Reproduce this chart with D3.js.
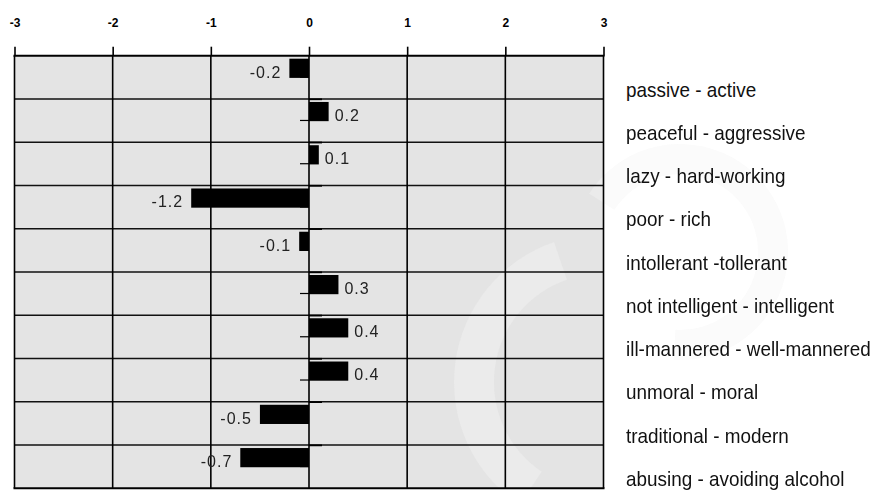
<!DOCTYPE html>
<html><head><meta charset="utf-8">
<script src="https://cdn.jsdelivr.net/npm/d3@7"></script>
<style>
html,body{margin:0;padding:0;background:#fff;}
svg{display:block;font-family:"Liberation Sans",Arial,sans-serif;}
svg text{font-family:"Liberation Sans",Arial,sans-serif;}
</style></head>
<body>
<script>
const categories = ["passive - active","peaceful - aggressive","lazy - hard-working","poor - rich","intollerant -tollerant","not intelligent - intelligent","ill-mannered - well-mannered","unmoral - moral","traditional - modern","abusing - avoiding alcohol"];
const values = [-0.2, 0.2, 0.1, -1.2, -0.1, 0.3, 0.4, 0.4, -0.5, -0.7];
const valueLabels = ["-0.2","0.2","0.1","-1.2","-0.1","0.3","0.4","0.4","-0.5","-0.7"];
const tickValues = [-3,-2,-1,0,1,2,3];
const tickLabels = ["-3","-2","-1","0","1","2","3"];

const W = 874, H = 490;
const svg = d3.select("body").append("svg").attr("width", W).attr("height", H);

const x = d3.scaleLinear().domain([-3,3]).range([14.5, 603.5]);
const y = d3.scaleBand().domain(categories).range([55.7, 488.3]).padding(0);
const bw = y.bandwidth();

// plot background
svg.append("rect").attr("x", x(-3)).attr("y", y.range()[0])
  .attr("width", x(3)-x(-3)).attr("height", y.range()[1]-y.range()[0])
  .attr("fill", "#e4e4e4");

// faint watermark (two swirling arcs)
const wm = svg.append("g").attr("fill", "#f4f4f4").attr("opacity", 0.4);
wm.append("path")
  .attr("d", d3.arc()({innerRadius: 108, outerRadius: 148, startAngle: -2.55, endAngle: -0.33}))
  .attr("transform", "translate(602,382)");
wm.append("path")
  .attr("d", d3.arc()({innerRadius: 78, outerRadius: 108, startAngle: -1.0, endAngle: 3.2}))
  .attr("transform", "translate(680,252)");

// horizontal row lines
svg.append("g").selectAll("line").data(categories.slice(1)).join("line")
  .attr("x1", x(-3)).attr("x2", x(3))
  .attr("y1", d => y(d)).attr("y2", d => y(d))
  .attr("stroke", "#111").attr("stroke-width", 1.4);

// short darker segments right of zero on row lines
svg.append("g").selectAll("line").data(categories.slice(1)).join("line")
  .attr("x1", x(0)).attr("x2", x(0)+13)
  .attr("y1", d => y(d)+0.3).attr("y2", d => y(d)+0.3)
  .attr("stroke", "#000").attr("stroke-width", 1.8);

// top axis with ticks
const axis = d3.axisTop(x).tickValues(tickValues).tickSize(9)
  .tickFormat((d,i) => tickLabels[i]);
const ag = svg.append("g").attr("transform", `translate(0,${y.range()[0]})`).call(axis);
ag.attr("font-family", null).attr("font-size", null);
ag.select(".domain").remove();
ag.selectAll(".tick line").attr("stroke", "#000").attr("stroke-width", 1.6);
ag.selectAll(".tick text")
  .style("font-family", "'Liberation Sans',Arial,sans-serif")
  .style("font-weight", "bold").style("font-size", "12px").attr("fill", "#000")
  .attr("y", -29).attr("dy", 0);

// vertical grid lines
svg.append("g").selectAll("line").data(tickValues).join("line")
  .attr("x1", d => x(d)).attr("x2", d => x(d))
  .attr("y1", y.range()[0]).attr("y2", y.range()[1])
  .attr("stroke", "#000").attr("stroke-width", 1.6);

// top and bottom borders
svg.append("line").attr("x1", x(-3)-1).attr("x2", x(3)+1)
  .attr("y1", y.range()[0]).attr("y2", y.range()[0]).attr("stroke", "#000").attr("stroke-width", 2);
svg.append("line").attr("x1", x(-3)-1).attr("x2", x(3)+1)
  .attr("y1", y.range()[1]).attr("y2", y.range()[1]).attr("stroke", "#000").attr("stroke-width", 2);

// small ticks left of zero at bar bottom
svg.append("g").selectAll("line").data(categories).join("line")
  .attr("x1", x(0)-9).attr("x2", x(0))
  .attr("y1", d => y(d)+21.5).attr("y2", d => y(d)+21.5)
  .attr("stroke", "#000").attr("stroke-width", 1.2);

// bars
const data = categories.map((c,i) => ({c, v: values[i], l: valueLabels[i]}));
svg.append("g").selectAll("rect").data(data).join("rect")
  .attr("x", d => x(Math.min(0,d.v)))
  .attr("width", d => Math.abs(x(d.v)-x(0)))
  .attr("y", d => y(d.c)+3)
  .attr("height", 19.2)
  .attr("fill", "#000");

// value labels
svg.append("g").selectAll("text").data(data).join("text")
  .attr("x", d => d.v < 0 ? x(d.v)-8 : x(d.v)+6)
  .attr("y", d => y(d.c)+21.8)
  .attr("text-anchor", d => d.v < 0 ? "end" : "start")
  .style("font-size", "16px").attr("letter-spacing", "1px")
  .attr("fill", "#222")
  .text(d => d.l);

// category labels on the right
svg.append("g").selectAll("text").data(categories).join("text")
  .attr("transform", d => `translate(626,${y(d)+bw-2.3}) scale(0.9,1)`)
  .style("font-size", "21px").attr("fill", "#111")
  .text(d => d);
</script>
</body></html>
